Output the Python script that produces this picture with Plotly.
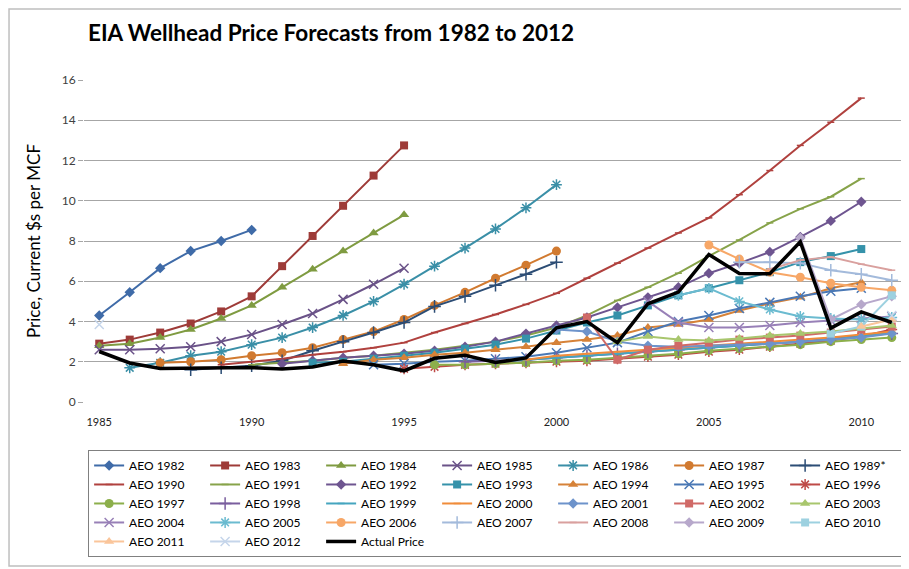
import plotly.graph_objects as go

# x categories (forecast / actual years)
YEARS = list(range(1985, 2012))

# --- forecast series: first year + values ---
aeo_1982 = (1985, [4.3, 5.45, 6.65, 7.5, 8.0, 8.55])
aeo_1983 = (1985, [2.9, 3.1, 3.45, 3.9, 4.5, 5.25, 6.75, 8.25, 9.75, 11.25, 12.75])
aeo_1984 = (1985, [2.8, 2.9, 3.2, 3.6, 4.15, 4.8, 5.7, 6.6, 7.5, 8.4, 9.3])
aeo_1985 = (1985, [2.6, 2.6, 2.65, 2.75, 3.0, 3.35, 3.85, 4.4, 5.1, 5.85, 6.65])
aeo_1986 = (1986, [1.7, 1.95, 2.3, 2.5, 2.85, 3.2, 3.7, 4.3, 5.0, 5.85, 6.75, 7.65, 8.6, 9.65, 10.8])
aeo_1987 = (1987, [1.95, 2.0, 2.1, 2.3, 2.45, 2.7, 3.1, 3.5, 4.1, 4.8, 5.45, 6.15, 6.8, 7.5])
aeo_1989 = (1988, [1.6, 1.7, 1.8, 2.05, 2.55, 3.0, 3.45, 3.95, 4.75, 5.25, 5.8, 6.35, 6.95])
aeo_1990 = (1989, [1.85, 2.0, 2.15, 2.35, 2.5, 2.7, 2.95, 3.45, 3.9, 4.35, 4.85, 5.4, 6.15,
                   6.9, 7.65, 8.4, 9.15, 10.3, 11.5, 12.75, 13.9, 15.1])
aeo_1991 = (1990, [1.85, 1.95, 2.05, 2.2, 2.3, 2.45, 2.6, 2.8, 3.0, 3.3, 3.7, 4.3, 5.05,
                   5.7, 6.4, 7.25, 8.05, 8.9, 9.6, 10.2, 11.1])
aeo_1992 = (1991, [1.9, 2.05, 2.2, 2.3, 2.4, 2.55, 2.75, 3.0, 3.4, 3.8, 4.2, 4.7, 5.2,
                   5.7, 6.4, 6.9, 7.45, 8.2, 9.0, 9.95])
aeo_1993 = (1992, [1.95, 2.0, 2.15, 2.3, 2.45, 2.65, 2.85, 3.15, 3.55, 3.95, 4.3, 4.8,
                   5.3, 5.65, 6.05, 6.45, 6.95, 7.25, 7.6])
aeo_1994 = (1993, [1.9, 2.1, 2.2, 2.35, 2.45, 2.6, 2.75, 2.95, 3.1, 3.3, 3.7, 3.85, 4.1,
                   4.55, 4.9, 5.2, 5.65, 5.95])
aeo_1995 = (1994, [1.85, 1.9, 2.0, 2.05, 2.15, 2.25, 2.45, 2.7, 2.95, 3.5, 4.0, 4.3, 4.65,
                   4.95, 5.25, 5.5, 5.65])
aeo_1996 = (1995, [1.65, 1.75, 1.85, 1.9, 1.95, 2.0, 2.05, 2.15, 2.25, 2.35, 2.5, 2.6,
                   2.75, 2.9, 3.05, 3.25, 3.6])
aeo_1997 = (1996, [1.85, 1.85, 1.9, 1.95, 2.05, 2.1, 2.2, 2.3, 2.4, 2.55, 2.65, 2.75,
                   2.85, 3.0, 3.1, 3.2])
aeo_1998 = (1997, [2.0, 2.05, 2.1, 2.2, 2.3, 2.4, 2.5, 2.6, 2.7, 2.8, 2.9, 3.0, 3.15, 3.3, 3.4])
aeo_1999 = (1998, [2.0, 2.1, 2.2, 2.3, 2.4, 2.5, 2.6, 2.7, 2.8, 2.9, 3.0, 3.1, 3.25, 3.45])
aeo_2000 = (1999, [2.1, 2.3, 2.4, 2.5, 2.6, 2.7, 2.8, 2.9, 3.0, 3.1, 3.2, 3.35, 3.5])
aeo_2001 = (2000, [3.6, 3.5, 3.0, 2.8, 2.75, 2.8, 2.85, 2.9, 3.0, 3.1, 3.2, 3.4])
aeo_2002 = (2001, [4.2, 2.1, 2.6, 2.8, 2.95, 3.1, 3.2, 3.3, 3.45, 3.6, 3.75])
aeo_2003 = (2002, [3.0, 3.25, 3.1, 3.05, 3.15, 3.3, 3.4, 3.5, 3.65, 3.8])
aeo_2004 = (2003, [5.0, 3.95, 3.7, 3.7, 3.8, 3.95, 4.05, 4.15, 4.25])
aeo_2005 = (2004, [5.3, 5.65, 5.0, 4.6, 4.25, 4.15, 4.1, 4.2])
aeo_2006 = (2005, [7.8, 7.1, 6.45, 6.2, 5.9, 5.7, 5.55])
aeo_2007 = (2006, [6.95, 6.95, 6.9, 6.55, 6.35, 6.05])
aeo_2008 = (2007, [6.6, 7.05, 7.2, 6.85, 6.55])
aeo_2009 = (2008, [8.15, 4.1, 4.85, 5.25])
aeo_2010 = (2009, [3.4, 3.75, 5.3])
aeo_2011 = (2010, [3.75, 4.1])
aeo_2012 = (1985, [3.85] + [None] * 25 + [4.3])

actual_price = [2.51, 1.94, 1.67, 1.69, 1.69, 1.71, 1.64, 1.74, 2.04, 1.85, 1.55, 2.17, 2.32,
                1.96, 2.19, 3.69, 4.00, 2.95, 4.88, 5.46, 7.33, 6.39, 6.37, 7.96, 3.67, 4.48, 3.95]

series_names = ["AEO 1982", "AEO 1983", "AEO 1984", "AEO 1985", "AEO 1986", "AEO 1987",
                "AEO 1989*", "AEO 1990", "AEO 1991", "AEO 1992", "AEO 1993", "AEO 1994",
                "AEO 1995", "AEO 1996", "AEO 1997", "AEO 1998", "AEO 1999", "AEO 2000",
                "AEO 2001", "AEO 2002", "AEO 2003", "AEO 2004", "AEO 2005", "AEO 2006",
                "AEO 2007", "AEO 2008", "AEO 2009", "AEO 2010", "AEO 2011", "AEO 2012"]
series_data = [aeo_1982, aeo_1983, aeo_1984, aeo_1985, aeo_1986, aeo_1987, aeo_1989,
               aeo_1990, aeo_1991, aeo_1992, aeo_1993, aeo_1994, aeo_1995, aeo_1996,
               aeo_1997, aeo_1998, aeo_1999, aeo_2000, aeo_2001, aeo_2002, aeo_2003,
               aeo_2004, aeo_2005, aeo_2006, aeo_2007, aeo_2008, aeo_2009, aeo_2010,
               aeo_2011, aeo_2012]

# excel-like styling (colour, marker) per series
colors = ["#3F6BA8", "#9E3B38", "#7F9B41", "#6A5288", "#3A8FA7", "#D17A30",
          "#2C4D75", "#B0413E", "#87A34A", "#6E5590", "#3592AA", "#D68238",
          "#4A78B5", "#BE4A47", "#8CAF4B", "#7A5E9E", "#45A5BF", "#F08C3A",
          "#6D93CB", "#D06A67", "#A8C66D", "#9880B7", "#6BBBD0", "#F7A767",
          "#A3BADB", "#D9A09E", "#B7A8CB", "#9DD1E0", "#FAC59A", "#C5D5EA"]
cycle = ["diamond", "square", "triangle-up", "x-thin-open", "asterisk-open",
         "circle", "cross-thin-open"]
symbols = (cycle + ["line-ew-open", "line-ew-open"]) * 2 + cycle + ["line-ew-open"] + cycle[:4]
sizes = {"diamond": 8, "square": 8, "triangle-up": 9, "x-thin-open": 9,
         "asterisk-open": 9, "circle": 9, "cross-thin-open": 9, "line-ew-open": 5}

fig = go.Figure()

for i, (name, (start, vals)) in enumerate(zip(series_names, series_data)):
    y = [None] * len(YEARS)
    for j, v in enumerate(vals):
        y[start - 1985 + j] = v
    sym = symbols[i]
    c = colors[i]
    fig.add_trace(go.Scatter(
        x=YEARS, y=y, name=name, mode="lines+markers",
        line=dict(color=c, width=2),
        marker=dict(symbol=sym, size=sizes[sym], color=c,
                    line=dict(color=c, width=1.5 if sym.endswith("open") else 0)),
        connectgaps=False,
    ))

fig.add_trace(go.Scatter(
    x=YEARS, y=actual_price, name="Actual Price", mode="lines",
    line=dict(color="black", width=3.5),
))

# chart border like excel
fig.add_shape(type="rect", xref="paper", yref="paper",
              x0=-0.0911, x1=1.03, y0=-0.509, y1=1.2205,
              line=dict(color="#BFBFBF", width=1.5), layer="below")

fig.update_layout(
    width=909, height=569,
    margin=dict(l=76, r=10, t=72, b=175, autoexpand=False),
    paper_bgcolor="white", plot_bgcolor="white",
    font=dict(family="Lato, Arial, sans-serif", size=12, color="black"),
    title=dict(text="<b>EIA Wellhead Price Forecasts from 1982 to 2012</b>",
               x=80 / 909, xref="container", xanchor="left",
               y=1 - 25 / 569, yanchor="middle",
               font=dict(size=22.5, color="black")),
    legend=dict(orientation="h", x=0.005, xanchor="left", y=-0.149, yanchor="top",
                bordercolor="#808080", borderwidth=1,
                entrywidth=71, entrywidthmode="pixels",
                font=dict(size=12), tracegroupgap=0),
    showlegend=True,
)

fig.update_xaxes(
    range=[1984.5, 2011.5], tickvals=[1985, 1990, 1995, 2000, 2005, 2010],
    ticktext=["1985", "1990", "1995", "2000", "2005", "2010"],
    showgrid=False, zeroline=False, showline=False,
    tickfont=dict(size=11, color="#222222"), ticks="", ticklabelstandoff=12,
)
fig.update_yaxes(
    range=[0, 16], dtick=2, showgrid=True, gridcolor="#A6A6A6", gridwidth=1,
    zeroline=False, ticks="outside", ticklen=5, tickcolor="#A6A6A6",
    tickfont=dict(size=12, color="#404040"), automargin=False,
    title=dict(text="Price, Current $s per MCF", font=dict(size=17), standoff=16),
)

fig.write_html("out.html")
